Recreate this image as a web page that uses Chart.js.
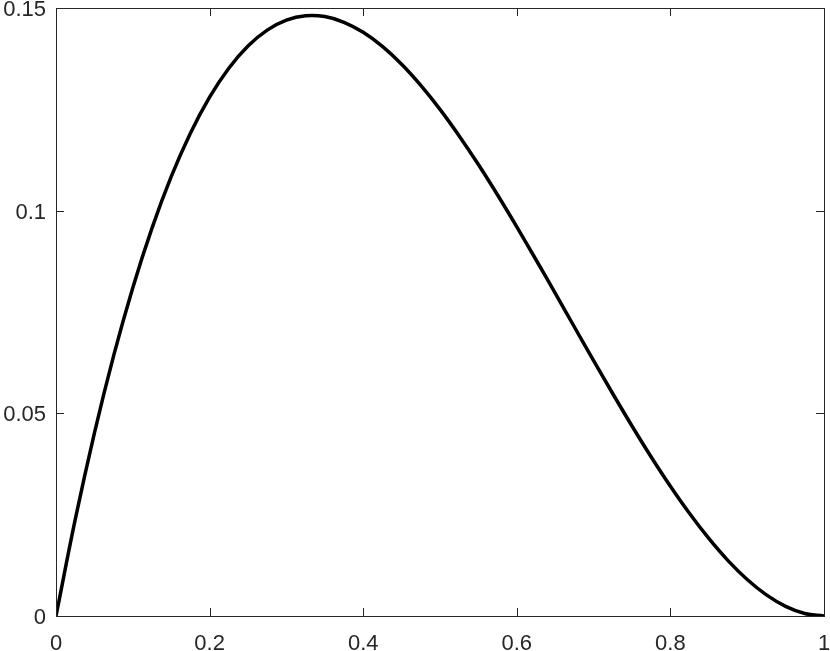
<!DOCTYPE html>
<html>
<head>
<meta charset="utf-8">
<script src="https://cdn.jsdelivr.net/npm/chart.js@4/dist/chart.umd.min.js"></script>
<style>
  html, body { margin: 0; padding: 0; background: #fff; }
  #wrap { width: 830px; height: 651px; }
</style>
</head>
<body>
<div id="wrap"><canvas id="plot" width="830" height="651"></canvas></div>
<script>
// values
const xs = [0, 0.025, 0.05, 0.075, 0.1, 0.125, 0.15, 0.175, 0.2, 0.225, 0.25, 0.275, 0.3, 0.325,
  0.35, 0.375, 0.4, 0.425, 0.45, 0.475, 0.5, 0.525, 0.55, 0.575, 0.6, 0.625, 0.65, 0.675, 0.7,
  0.725, 0.75, 0.775, 0.8, 0.825, 0.85, 0.875, 0.9, 0.925, 0.95, 0.975, 1];
const ys = [0, 0.02377, 0.04513, 0.06417, 0.081, 0.0957, 0.10838, 0.11911, 0.128, 0.13514,
  0.14063, 0.14455, 0.147, 0.14808, 0.14788, 0.14648, 0.144, 0.14052, 0.13613, 0.13092, 0.125,
  0.11845, 0.11138, 0.10386, 0.096, 0.08789, 0.07963, 0.0713, 0.063, 0.05483, 0.04688, 0.03923,
  0.032, 0.02527, 0.01913, 0.01367, 0.009, 0.0052, 0.00238, 0.00061, 0];
const xTicks = [0, 0.2, 0.4, 0.6, 0.8, 1];
const yTicks = [0, 0.05, 0.1, 0.15];
const xTickLabels = ['0', '0.2', '0.4', '0.6', '0.8', '1'];
const yTickLabels = ['0', '0.05', '0.1', '0.15'];

const axisColor = '#262626';

// box + inward ticks like the original figure
const boxTicks = {
  id: 'boxTicks',
  afterDraw(chart) {
    const c = chart.ctx, a = chart.chartArea;
    const sx = chart.scales.x, sy = chart.scales.y;
    c.save();
    c.strokeStyle = axisColor;
    c.lineWidth = 1;
    c.beginPath();
    xTicks.forEach(v => {
      const px = Math.round(sx.getPixelForValue(v)) + 0.5;
      c.moveTo(px, a.bottom); c.lineTo(px, a.bottom - 8);
      c.moveTo(px, a.top); c.lineTo(px, a.top + 8);
    });
    yTicks.forEach(v => {
      const py = Math.round(sy.getPixelForValue(v)) + 0.5;
      c.moveTo(a.left, py); c.lineTo(a.left + 8, py);
      c.moveTo(a.right, py); c.lineTo(a.right - 8, py);
    });
    c.stroke();
    c.strokeRect(Math.round(a.left) + 0.5, Math.round(a.top) + 0.5,
      Math.round(a.right - a.left), Math.round(a.bottom - a.top));
    c.restore();
  }
};

new Chart(document.getElementById('plot').getContext('2d'), {
  type: 'line',
  data: {
    datasets: [{
      data: xs.map((x, i) => ({ x: x, y: ys[i] })),
      borderColor: '#000',
      borderWidth: 3.5,
      pointRadius: 0,
      tension: 0.4,
      fill: false
    }]
  },
  options: {
    responsive: false,
    animation: false,
    layout: { padding: { top: 8, right: 6, left: 0, bottom: 0 } },
    plugins: { legend: { display: false }, tooltip: { enabled: false } },
    scales: {
      x: {
        type: 'linear', min: 0, max: 1,
        afterBuildTicks: s => { s.ticks = xTicks.map(v => ({ value: v })); },
        afterFit: s => { s.height = 35; s.paddingLeft = 0; s.paddingRight = 0; },
        grid: { display: false, drawTicks: false },
        border: { display: false },
        ticks: {
          color: axisColor, padding: 15, maxRotation: 0, autoSkip: false,
          font: { family: 'Liberation Sans', size: 22 },
          callback: (v, i) => xTickLabels[i]
        }
      },
      y: {
        type: 'linear', min: 0, max: 0.15,
        afterBuildTicks: s => { s.ticks = yTicks.map(v => ({ value: v })); },
        afterFit: s => { s.width = 56; s.paddingTop = 0; s.paddingBottom = 0; },
        grid: { display: false, drawTicks: false },
        border: { display: false },
        ticks: {
          color: axisColor, padding: 10, labelOffset: 2, autoSkip: false,
          font: { family: 'Liberation Sans', size: 22 },
          callback: (v, i) => yTickLabels[i]
        }
      }
    }
  },
  plugins: [boxTicks]
});
</script>
</body>
</html>
